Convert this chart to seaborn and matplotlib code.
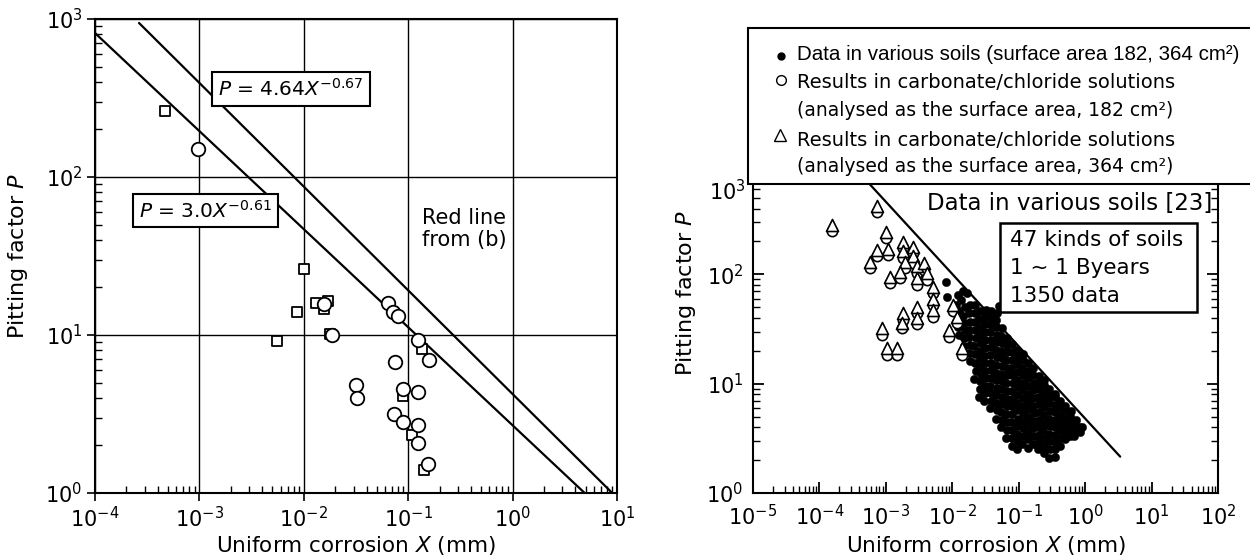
import matplotlib
matplotlib.use("Agg")
import matplotlib.pyplot as plt
import seaborn as sns
from matplotlib.patches import Rectangle
from matplotlib.lines import Line2D
from matplotlib.ticker import LogLocator, NullFormatter

# ---------------- data: left panel ----------------
square_x = [4.68e-4, 0.0100, 0.00856, 0.0055, 0.0131, 0.0171, 0.0156, 0.0177,
            0.1346, 0.0897, 0.108, 0.1425]
square_p = [262, 26, 13.9, 9.2, 15.9, 16.3, 14.6, 10.2, 8.15, 4.11, 2.33, 1.40]

circle_x = [9.8e-4, 0.0643, 0.0720, 0.0794, 0.123, 0.159, 0.0748, 0.0316, 0.0325,
            0.0897, 0.123, 0.0736, 0.0897, 0.123, 0.123, 0.156, 0.0156, 0.0185]
circle_p = [150, 15.9, 14.0, 13.1, 9.3, 6.9, 6.7, 4.8, 4.0,
            4.55, 4.34, 3.16, 2.83, 2.69, 2.06, 1.53, 15.6, 10.0]

fit_upper_x = [2.64e-4, 9.0]      # P = 4.64 X^-0.67
fit_upper_p = [944, 1.0]
fit_lower_x = [1.0e-4, 4.9]       # P = 3.0 X^-0.61
fit_lower_p = [815, 1.0]

# ---------------- data: right panel ----------------
tri_x = [1.53e-4, 7.3e-4, 1.0e-3, 1.07e-3, 7.3e-4, 5.8e-4, 1.8e-3, 1.83e-3, 2.54e-3, 2.56e-3,
         1.95e-3, 1.64e-3, 1.16e-3, 2.92e-3, 3.76e-3, 2.92e-3, 4.1e-3, 5.2e-3, 5.2e-3, 5.2e-3,
         2.92e-3, 2.92e-3, 1.83e-3, 1.74e-3, 8.7e-4, 1.03e-3, 1.46e-3, 0.0104, 0.0117, 9.0e-3, 0.0139]
tri_p = [284, 422, 245, 172, 167, 131, 199, 162, 179, 147,
         131, 106, 95, 118, 126, 92, 102, 77, 60, 47,
         50, 40, 44, 36, 32, 21, 21, 52, 41, 31, 21]
circ_x = list(tri_x)
circ_p = [248, 368, 214, 150, 146, 114, 174, 141, 156, 128,
          114, 93, 83, 103, 110, 80, 89, 67, 52, 41,
          44, 35, 38, 32, 28, 18.3, 18.3, 46, 36, 27, 18.3]

soil_x = [0.0081, 0.0083, 0.0124, 0.0166, 0.0145, 0.0112, 0.0135,
          0.0128, 0.0122, 0.0130, 0.0125,
          0.0152, 0.0148, 0.0155, 0.0150, 0.0147, 0.0153,
          0.0183, 0.0178, 0.0185, 0.0180, 0.0176, 0.0184, 0.0181, 0.0186,
          0.0210, 0.0224, 0.0218, 0.0222, 0.0215, 0.0226, 0.0220, 0.0217, 0.0223, 0.0219,
          0.0255, 0.0265, 0.0260, 0.0268, 0.0258, 0.0263, 0.0257, 0.0266, 0.0260, 0.0262, 0.0256, 0.0264,
          0.0305, 0.0315, 0.0310, 0.0318, 0.0307, 0.0312, 0.0303, 0.0316, 0.0309, 0.0314, 0.0306, 0.0311, 0.0317,
          0.0375, 0.0385, 0.0380, 0.0372, 0.0388, 0.0378, 0.0383, 0.0376, 0.0386, 0.0379, 0.0374, 0.0384, 0.0381, 0.0377,
          0.0455, 0.0465, 0.0460, 0.0452, 0.0468, 0.0458, 0.0463, 0.0456, 0.0466, 0.0459, 0.0454, 0.0464, 0.0461, 0.0457, 0.0470, 0.0500,
          0.0545, 0.0558, 0.0550, 0.0542, 0.0560, 0.0548, 0.0555, 0.0546, 0.0562, 0.0551, 0.0544, 0.0557, 0.0549, 0.0553,
          0.0650, 0.0670, 0.0660, 0.0648, 0.0672, 0.0658, 0.0665, 0.0654, 0.0674, 0.0661, 0.0652, 0.0668, 0.0660, 0.0656,
          0.0780, 0.0800, 0.0790, 0.0775, 0.0805, 0.0785, 0.0795, 0.0782, 0.0808, 0.0788, 0.0778, 0.0798, 0.0791, 0.0784,
          0.0940, 0.0960, 0.0950, 0.0930, 0.0970, 0.0945, 0.0955, 0.0935, 0.0965, 0.0948, 0.0938, 0.0958, 0.0952, 0.0942,
          0.1140, 0.1160, 0.1150, 0.1130, 0.1170, 0.1145, 0.1155, 0.1135, 0.1168, 0.1148, 0.1138, 0.1158, 0.1152,
          0.1370, 0.1390, 0.1380, 0.1360, 0.1400, 0.1375, 0.1385, 0.1365, 0.1395, 0.1378, 0.1368, 0.1388,
          0.1650, 0.1670, 0.1660, 0.1640, 0.1680, 0.1655, 0.1665, 0.1645, 0.1675, 0.1658, 0.1648,
          0.198, 0.202, 0.200, 0.196, 0.204, 0.199, 0.201, 0.197, 0.203, 0.1995, 0.2015,
          0.238, 0.242, 0.240, 0.236, 0.244, 0.239, 0.241, 0.237, 0.243, 0.2395, 0.2415,
          0.288, 0.292, 0.290, 0.286, 0.294, 0.289, 0.291, 0.287, 0.293, 0.2895,
          0.353, 0.348, 0.352, 0.346, 0.354, 0.349, 0.351, 0.347, 0.355, 0.350,
          0.418, 0.422, 0.420, 0.416, 0.424, 0.419, 0.421,
          0.498, 0.502, 0.500, 0.496, 0.504, 0.499,
          0.598, 0.602, 0.600, 0.596, 0.610,
          0.670, 0.720, 0.710, 0.730,
          0.820, 0.900, 0.850]
soil_p = [85, 62, 65, 67, 70, 52, 58,
          28, 33, 39, 46,
          22, 26, 31, 36, 42, 50,
          16, 19, 22.5, 26.5, 31, 37, 44, 52,
          11, 13, 15.5, 18.5, 22, 26, 31, 37, 44, 52,
          7.5, 9, 10.5, 12.3, 14.5, 17, 20, 23.5, 28, 33, 39, 46,
          7, 8.2, 9.6, 11.2, 13, 15.3, 18, 21, 25, 29.5, 35, 41, 47,
          6, 7, 8.2, 9.6, 11.2, 13.2, 15.5, 18.2, 21.5, 25, 29.5, 34.5, 40, 46,
          4.8, 5.7, 6.7, 7.8, 9.2, 10.8, 12.6, 14.8, 17.4, 20.4, 24, 28, 33, 38, 44, 51,
          4, 4.7, 5.5, 6.5, 7.6, 8.9, 10.5, 12.3, 14.4, 17, 20, 23.5, 27.5, 32,
          3.2, 3.8, 4.5, 5.3, 6.2, 7.3, 8.6, 10.1, 11.9, 14, 16.4, 19.3, 22.7, 26,
          2.7, 3.2, 3.8, 4.5, 5.3, 6.2, 7.3, 8.6, 10.1, 11.9, 14, 16.5, 19.4, 23,
          2.5, 3, 3.5, 4.1, 4.8, 5.7, 6.7, 7.9, 9.3, 10.9, 12.8, 15, 17.7, 20.5,
          2.8, 3.3, 3.9, 4.6, 5.4, 6.3, 7.4, 8.7, 10.2, 12, 14, 16.4, 18.5,
          2.6, 3.1, 3.6, 4.3, 5, 5.9, 6.9, 8.1, 9.5, 11.2, 13.1, 15.4,
          2.8, 3.3, 3.9, 4.6, 5.4, 6.3, 7.4, 8.7, 10.2, 12, 13.8,
          2.5, 2.9, 3.4, 4, 4.7, 5.5, 6.5, 7.6, 8.9, 10.4, 11.8,
          2.3, 2.7, 3.2, 3.8, 4.4, 5.2, 6.1, 7.1, 8.3, 9.7, 10.8,
          2.1, 2.5, 3, 3.5, 4.1, 4.8, 5.6, 6.6, 7.7, 9,
          2.15, 2.5, 2.9, 3.4, 4, 4.7, 5.5, 6.4, 7.5, 8.1,
          2.7, 3.2, 3.8, 4.4, 5.1, 6, 6.9,
          3.1, 3.6, 4.2, 4.9, 5.7, 6.3,
          3.3, 3.8, 4.4, 5.1, 5.6,
          3.3, 3.7, 4.2, 4.7,
          4.0, 4.0, 3.6]

limit_line_x = [3.1e-4, 3.37]
limit_line_p = [1000, 2.15]

left_xticks = [1e-4, 1e-3, 1e-2, 1e-1, 1e0, 1e1]
left_xlabels = [r"$10^{-4}$", r"$10^{-3}$", r"$10^{-2}$", r"$10^{-1}$", r"$10^{0}$", r"$10^{1}$"]
left_yticks = [1, 10, 100, 1000]
left_ylabels = [r"$10^{0}$", r"$10^{1}$", r"$10^{2}$", r"$10^{3}$"]
right_xticks = [1e-5, 1e-4, 1e-3, 1e-2, 1e-1, 1e0, 1e1, 1e2]
right_xlabels = [r"$10^{-5}$", r"$10^{-4}$", r"$10^{-3}$", r"$10^{-2}$", r"$10^{-1}$",
                 r"$10^{0}$", r"$10^{1}$", r"$10^{2}$"]
right_yticks = [1, 10, 100, 1000]
right_ylabels = [r"$10^{0}$", r"$10^{1}$", r"$10^{2}$", ""]

# ---------------- style ----------------
sns.set_style("ticks")
plt.rcParams["font.family"] = ["DejaVu Sans"]
plt.rcParams["mathtext.fontset"] = "dejavusans"
for k in ["text.color", "axes.labelcolor", "xtick.color", "ytick.color", "axes.edgecolor"]:
    plt.rcParams[k] = "black"

fig = plt.figure(figsize=(12.5, 5.6), dpi=100)
fig.patch.set_facecolor("white")
W, H = 1250.0, 560.0
axL = fig.add_axes([95 / W, 1 - 493 / H, 522 / W, 474 / H])
axR = fig.add_axes([753 / W, 1 - 493 / H, 465 / W, 328 / H])

# ---------------- left panel ----------------
axL.set_xscale("log")
axL.set_yscale("log")
sns.lineplot(x=fit_upper_x, y=fit_upper_p, color="black", lw=1.6, sort=False,
             estimator=None, ax=axL)
sns.lineplot(x=fit_lower_x, y=fit_lower_p, color="black", lw=1.6, sort=False,
             estimator=None, ax=axL)
sns.scatterplot(x=square_x, y=square_p, marker="s", s=60, color="white",
                edgecolor="black", linewidth=1.3, ax=axL, zorder=3, legend=False)
sns.scatterplot(x=circle_x, y=circle_p, marker="o", s=95, color="white",
                edgecolor="black", linewidth=1.3, ax=axL, zorder=4, legend=False)
axL.set_xlim(1e-4, 1e1)
axL.set_ylim(1, 1e3)
axL.set_xticks(left_xticks, left_xlabels)
axL.set_yticks(left_yticks, left_ylabels)
axL.xaxis.set_minor_locator(LogLocator(base=10, subs=range(2, 10), numticks=20))
axL.yaxis.set_minor_locator(LogLocator(base=10, subs=range(2, 10), numticks=20))
axL.xaxis.set_minor_formatter(NullFormatter())
axL.yaxis.set_minor_formatter(NullFormatter())
axL.grid(True, which="major", color="black", lw=1.0)
axL.set_axisbelow(True)
axL.tick_params(which="major", direction="out", length=6, width=1.2, labelsize=15, pad=3)
axL.tick_params(which="minor", direction="in", length=5, width=1.0)
for sp in axL.spines.values():
    sp.set_linewidth(1.5)
axL.set_xlabel(r"Uniform corrosion $X$ (mm)", fontsize=15.5)
axL.set_ylabel(r"Pitting factor $P$", fontsize=16)
axL.xaxis.set_label_coords(0.5, -0.0865)
axL.yaxis.set_label_coords(-0.125, 0.5)

box = dict(boxstyle="square,pad=0.3", fc="white", ec="black", lw=1.5)
axL.text(0.376, 0.853, r"$P$ = 4.64$X^{-0.67}$", transform=axL.transAxes,
         ha="center", va="center", fontsize=14.5, bbox=box, zorder=5)
axL.text(0.211, 0.596, r"$P$ = 3.0$X^{-0.61}$", transform=axL.transAxes,
         ha="center", va="center", fontsize=14.5, bbox=box, zorder=5)
axL.text(0.626, 0.602, "Red line\nfrom (b)", transform=axL.transAxes,
         ha="left", va="top", fontsize=15, linespacing=1.15, zorder=5,
         bbox=dict(fc="white", ec="none", pad=0.5))

# ---------------- right panel ----------------
axR.set_xscale("log")
axR.set_yscale("log")
sns.lineplot(x=limit_line_x, y=limit_line_p, color="black", lw=1.6, sort=False,
             estimator=None, ax=axR)
sns.scatterplot(x=soil_x, y=soil_p, marker="o", s=36, color="black",
                edgecolor="black", linewidth=0.3, ax=axR, zorder=3, legend=False)
sns.scatterplot(x=circ_x, y=circ_p, marker="o", s=55, color="white",
                edgecolor="black", linewidth=1.2, ax=axR, zorder=4, legend=False)
sns.scatterplot(x=tri_x, y=tri_p, marker="^", s=75, color="white",
                edgecolor="black", linewidth=1.2, ax=axR, zorder=5, legend=False)
axR.set_xlim(1e-5, 1e2)
axR.set_ylim(1, 1e3)
axR.set_xticks(right_xticks, right_xlabels)
axR.set_yticks(right_yticks, right_ylabels)
axR.xaxis.set_minor_locator(LogLocator(base=10, subs=range(2, 10), numticks=20))
axR.yaxis.set_minor_locator(LogLocator(base=10, subs=range(2, 10), numticks=20))
axR.xaxis.set_minor_formatter(NullFormatter())
axR.yaxis.set_minor_formatter(NullFormatter())
axR.tick_params(which="both", direction="in", right=True, top=True)
axR.tick_params(which="major", length=8, width=1.3, labelsize=15)
axR.tick_params(axis="x", which="major", pad=8)
axR.tick_params(axis="y", which="major", pad=7)
axR.tick_params(which="minor", length=5, width=1.0)
for sp in axR.spines.values():
    sp.set_linewidth(1.5)
axR.set_xlabel(r"Uniform corrosion $X$ (mm)", fontsize=15.5)
axR.set_ylabel(r"Pitting factor $P$", fontsize=16)
axR.xaxis.set_label_coords(0.5, -0.125)
axR.yaxis.set_label_coords(-0.118, 0.61)
axR.text(-0.016, 0.918, r"$10^{3}$", transform=axR.transAxes, ha="right",
         va="center", fontsize=15)

axR.text(0.987, 0.884, "Data in various soils [23]", transform=axR.transAxes,
         ha="right", va="center", fontsize=16.5, zorder=6)
axR.add_patch(Rectangle((0.531, 0.552), 0.424, 0.271, transform=axR.transAxes,
                        fc="white", ec="black", lw=1.8, zorder=6))
for i, line in enumerate(["47 kinds of soils", "1 ~ 1 Byears", "1350 data"]):
    axR.text(0.553, 0.771 - i * 0.085, line, transform=axR.transAxes,
             ha="left", va="center", fontsize=15.5, zorder=7)

# ---------------- legend box ----------------
fig.add_artist(Rectangle((748 / W, 1 - 184 / H), (1262 - 748) / W, (184 - 28) / H,
                         transform=fig.transFigure, fc="white", ec="black",
                         lw=1.5, zorder=10))
fig.add_artist(Line2D([781 / W], [1 - 56 / H], marker="o", ms=5, mfc="black",
                      mec="black", ls="none", transform=fig.transFigure, zorder=11))
fig.add_artist(Line2D([781 / W], [1 - 80 / H], marker="o", ms=7, mfc="white",
                      mec="black", mew=1.0, ls="none", transform=fig.transFigure, zorder=11))
fig.add_artist(Line2D([780 / W], [1 - 135 / H], marker="^", ms=8, mfc="white",
                      mec="black", mew=1.0, ls="none", transform=fig.transFigure, zorder=11))
fig.text(797 / W, 1 - 55 / H, "Data in various soils (surface area 182, 364 cm²)",
         family=["Liberation Sans"], fontsize=14.8,
         ha="left", va="center", zorder=11)
fig.text(797 / W, 1 - 82 / H, "Results in carbonate/chloride solutions",
         family=["DejaVu Sans"], fontsize=14, ha="left", va="center", zorder=11)
fig.text(797 / W, 1 - 110 / H, "(analysed as the surface area, 182 cm²)",
         family=["DejaVu Sans"], fontsize=13.5, ha="left", va="center", zorder=11)
fig.text(797 / W, 1 - 140 / H, "Results in carbonate/chloride solutions",
         family=["DejaVu Sans"], fontsize=14, ha="left", va="center", zorder=11)
fig.text(797 / W, 1 - 167 / H, "(analysed as the surface area, 364 cm²)",
         family=["DejaVu Sans"], fontsize=13.5, ha="left", va="center", zorder=11)

fig.savefig("out.png", dpi=100, facecolor="white")
